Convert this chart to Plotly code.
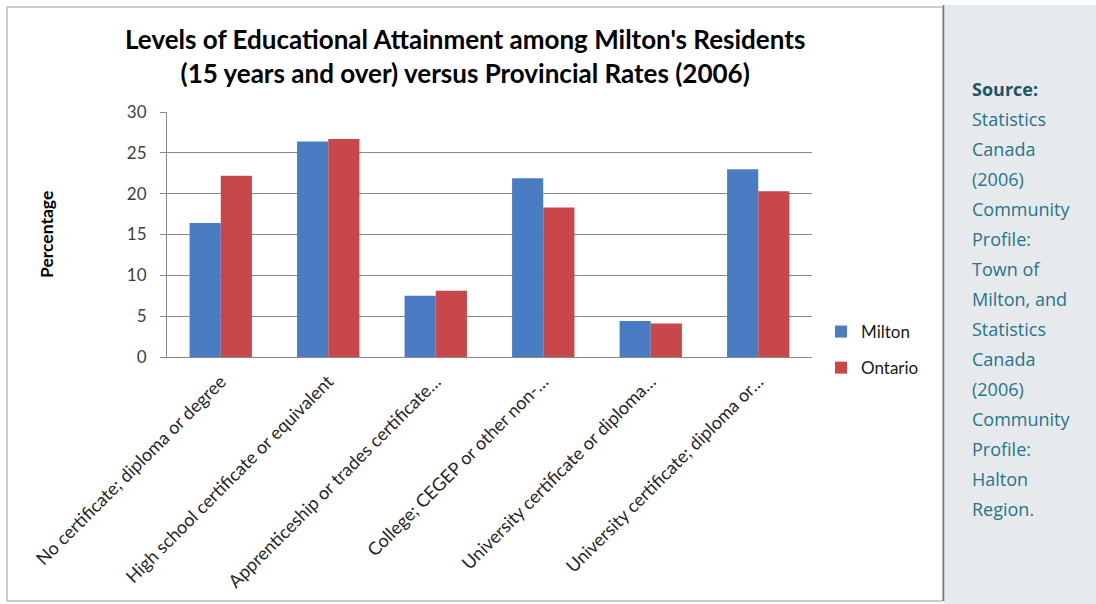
import plotly.graph_objects as go

categories = [
    "No certificate; diploma or degree",
    "High school certificate or equivalent",
    "Apprenticeship or trades certificate…",
    "College; CEGEP or other non-…",
    "University certificate or diploma…",
    "University certificate; diploma or…",
]
milton = [16.4, 26.4, 7.5, 21.9, 4.4, 23.0]
ontario = [22.2, 26.7, 8.1, 18.3, 4.1, 20.3]
y_ticks = [0, 5, 10, 15, 20, 25, 30]

source_lines = [
    "Statistics", "Canada", "(2006)", "Community", "Profile:", "Town of",
    "Milton, and", "Statistics", "Canada", "(2006)", "Community", "Profile:",
    "Halton", "Region.",
]

W, H = 1096, 604
L, R, T, B = 167, 812, 112, 357  # plot area in pixels


def px(x):
    return (x - L) / (R - L)


def py(y):
    return (B - y) / (B - T)


fig = go.Figure()
fig.add_trace(go.Bar(x=categories, y=milton, name="Milton", legendgroup="m",
                     marker=dict(color="#4a7cc3", line=dict(width=0))))
fig.add_trace(go.Bar(x=categories, y=ontario, name="Ontario", legendgroup="o",
                     marker=dict(color="#c8474a", line=dict(width=0))))

shapes = [
    # chart frame
    dict(type="rect", xref="paper", yref="paper", x0=px(7), x1=px(943),
         y0=py(601), y1=py(7), line=dict(color="#9a9a9a", width=1),
         fillcolor="rgba(0,0,0,0)", layer="below"),
    # side panel
    dict(type="rect", xref="paper", yref="paper", x0=px(944), x1=px(1097),
         y0=py(605), y1=py(5), line=dict(width=0), fillcolor="#e6eaed",
         layer="below"),
    dict(type="line", xref="paper", yref="paper", x0=px(943.5), x1=px(943.5),
         y0=py(601), y1=py(5), line=dict(color="#7a7a7a", width=1.5)),
]

annotations = [
    dict(text="<b>Levels of Educational Attainment among Milton's Residents<br>"
              "(15 years and over) versus Provincial Rates (2006)</b>",
         xref="paper", yref="paper", x=px(465), y=py(56), xanchor="center",
         yanchor="middle", showarrow=False,
         font=dict(family="Lato", size=26, color="#000000")),
    dict(text="<b>Percentage</b>", xref="paper", yref="paper", x=px(46),
         y=py(234), textangle=-90, showarrow=False, xanchor="center",
         yanchor="middle", font=dict(family="Lato", size=17.5, color="#000000")),
    dict(text="<b>Source:</b>", xref="paper", yref="paper", x=px(970),
         y=py(89), xanchor="left", yanchor="middle", showarrow=False,
         font=dict(family="Open Sans", size=18, color="#1c5566")),
]
for i, line in enumerate(source_lines):
    annotations.append(dict(
        text=line, xref="paper", yref="paper", x=px(970),
        y=py(119 + 30 * i), xanchor="left", yanchor="middle",
        showarrow=False,
        font=dict(family="Open Sans", size=18, color="#27748a")))

fig.update_layout(
    width=W, height=H,
    margin=dict(l=L, r=W - R, t=T, b=H - B, pad=0),
    paper_bgcolor="white", plot_bgcolor="white",
    barmode="group", bargap=0.42, bargroupgap=0,
    font=dict(family="Lato", color="#404040"),
    shapes=shapes, annotations=annotations,
    legend=dict(x=px(821), y=py(314), xanchor="left", yanchor="top",
                font=dict(family="Lato", size=17, color="#1a1a1a"),
                itemwidth=30, tracegroupgap=11, bgcolor="rgba(0,0,0,0)"),
    xaxis=dict(tickangle=-45, tickfont=dict(family="Lato", size=18, color="#262626"),
               showline=True, linecolor="#8a8a8a", linewidth=1,
               ticks="", showgrid=False, ticklabelstandoff=6),
    yaxis=dict(range=[0, 30], tickvals=y_ticks, showline=True,
               linecolor="#8a8a8a", linewidth=1, ticks="outside", ticklen=6,
               tickcolor="#8a8a8a", gridcolor="#8a8a8a", gridwidth=1,
               ticklabelstandoff=10,
               tickfont=dict(family="Lato", size=17, color="#404040"),
               zeroline=False),
)

fig.write_html("out.html")
